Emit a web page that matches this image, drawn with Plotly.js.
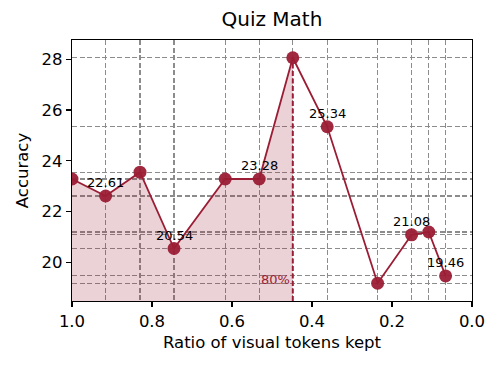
<!DOCTYPE html>
<html>
<head>
<meta charset="utf-8">
<script src="https://cdn.plot.ly/plotly-3.0.1.min.js"></script>
<style>html,body{margin:0;padding:0;background:#fff;}#chart{width:499px;height:369px;}</style>
</head>
<body>
<div id="chart"></div>
<script>
const ratios = [1.0, 0.916, 0.83, 0.745, 0.617, 0.532, 0.448, 0.362, 0.236, 0.151, 0.108, 0.066];
const accuracy = [23.28, 22.61, 23.55, 20.54, 23.28, 23.28, 28.06, 25.34, 19.17, 21.08, 21.19, 19.46];
const labeledIdx = [1, 3, 5, 7, 9, 11];
const cutoffIdx = 6;
const cutoffLabel = "80%";
const xTicks = [1.0, 0.8, 0.6, 0.4, 0.2, 0.0];
const xTickText = ["1.0", "0.8", "0.6", "0.4", "0.2", "0.0"];
const yTicks = [20, 22, 24, 26, 28];

const red = "#9b1d35";
const font = "DejaVu Sans, sans-serif";
const yMin = 18.47, yMax = 28.76;

const fillTrace = {
  x: ratios.slice(0, cutoffIdx + 1),
  y: accuracy.slice(0, cutoffIdx + 1),
  type: "scatter", mode: "lines",
  line: {width: 0, color: red},
  fill: "tozeroy", fillcolor: "rgba(155,29,53,0.2)",
  hoverinfo: "skip", showlegend: false
};
const mainTrace = {
  x: ratios, y: accuracy,
  type: "scatter", mode: "lines+markers",
  line: {color: red, width: 1.8},
  marker: {color: red, size: 13, opacity: 0.95},
  showlegend: false
};

const annotations = labeledIdx.map(i => ({
  x: ratios[i], y: accuracy[i], text: accuracy[i].toFixed(2),
  showarrow: false, yanchor: "bottom", yshift: 4,
  font: {family: font, size: 13, color: "#000"}
}));
annotations.push({
  x: ratios[cutoffIdx], y: 19.32, text: cutoffLabel, showarrow: false,
  xanchor: "right", yanchor: "middle", xshift: -1,
  font: {family: font, size: 13, color: red}
});

const gridStyle = {showgrid: true, gridcolor: "#8c8c8c", griddash: "5px,2.5px", gridwidth: 1.2, ticks: ""};

const layout = {
  width: 499, height: 369,
  margin: {l: 72, r: 27, t: 40, b: 68, pad: 0},
  paper_bgcolor: "#fff", plot_bgcolor: "#fff",
  title: {text: "Quiz Math", font: {family: font, size: 20, color: "#000"}, x: 0.545, xanchor: "center", y: 0.948, yanchor: "middle"},
  xaxis: {
    range: [1.0, 0.0], tickmode: "array", tickvals: xTicks, ticktext: xTickText,
    showgrid: false, zeroline: false,
    ticks: "outside", ticklen: 5, tickwidth: 1.2, tickcolor: "#000",
    showline: true, linecolor: "#000", linewidth: 1.2, mirror: true,
    tickfont: {family: font, size: 16.5, color: "#000"},
    title: {text: "Ratio of visual tokens kept", font: {family: font, size: 16.5, color: "#000"}, standoff: 6},
    minor: Object.assign({tickmode: "array", tickvals: ratios}, gridStyle)
  },
  yaxis: {
    range: [yMin, yMax], tickmode: "array", tickvals: yTicks,
    showgrid: false, zeroline: false,
    ticks: "outside", ticklen: 5, tickwidth: 1.2, tickcolor: "#000",
    showline: true, linecolor: "#000", linewidth: 1.2, mirror: true,
    tickfont: {family: font, size: 16.5, color: "#000"},
    title: {text: "Accuracy", font: {family: font, size: 16.5, color: "#000"}, standoff: 8},
    minor: Object.assign({tickmode: "array", tickvals: accuracy}, gridStyle)
  },
  shapes: [{
    type: "line", xref: "x", yref: "y",
    x0: ratios[cutoffIdx], x1: ratios[cutoffIdx], y0: yMin, y1: accuracy[cutoffIdx],
    line: {color: red, width: 2, dash: "5px,2.5px"}, layer: "above"
  }],
  annotations: annotations
};

Plotly.newPlot("chart", [fillTrace, mainTrace], layout, {staticPlot: true, displayModeBar: false});
</script>
</body>
</html>
